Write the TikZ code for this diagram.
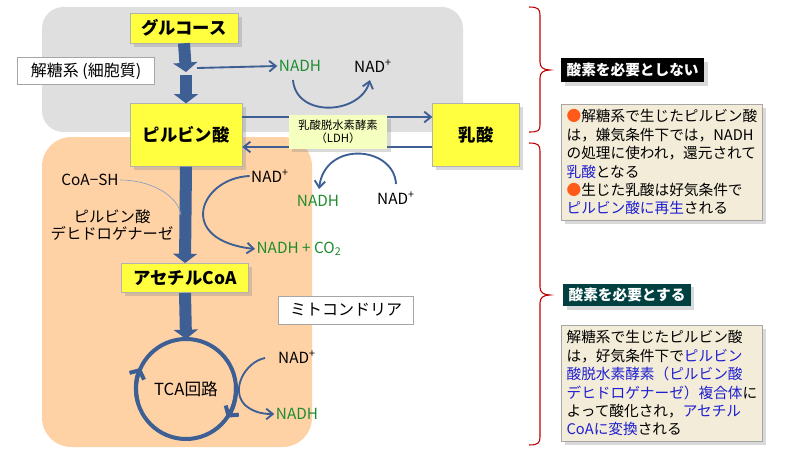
\documentclass[tikz,border=0pt]{standalone}
\usepackage{fontspec}
\setmainfont{Noto Sans CJK JP}
\usetikzlibrary{arrows.meta,shadows}
\definecolor{ar}{HTML}{3D5F94}
\definecolor{gr}{HTML}{1E8C2E}
\definecolor{bl}{HTML}{1F1FD0}
\definecolor{yel}{HTML}{FFFF40}
\definecolor{beige}{HTML}{F3ECD8}
\definecolor{orng}{HTML}{FF5A1A}
\begin{document}
\begin{tikzpicture}[x=0.75pt,y=-0.75pt,
 yb/.style={draw=gray!60,fill=yel,drop shadow={opacity=0.3},font=\bfseries\fontsize{13}{14}\selectfont,inner sep=0},
 lb/.style={draw=gray!70,fill=white,font=\fontsize{12}{14}\selectfont,inner sep=0},
 big/.style={ar,line width=9pt,-{Triangle[length=7pt,width=18pt]}},
 thin/.style={ar,line width=1.4pt,-{Straight Barb[length=5pt,width=8pt]}},
 tx/.style={font=\fontsize{11.5}{13}\selectfont,inner sep=1pt},
 note/.style={draw=gray!70,fill=beige,drop shadow={opacity=0.3},font=\fontsize{11}{13.8}\selectfont,align=left,inner sep=4pt,anchor=north west}]
\useasboundingbox (0,0) rectangle (800,460);
\fill[gray!25, rounded corners=16pt] (42,7) rectangle (463,132);
\fill[orange!35, rounded corners=22pt] (42,137) rectangle (312,447);
\node[yb,minimum width=81pt,minimum height=22.5pt] (glu) at (184,28) {グルコース};
\node[lb,minimum width=103pt,minimum height=20pt] (cyto) at (86,71) {解糖系 (細胞質)};
\node[yb,minimum width=84pt,minimum height=47pt] (pyr) at (186,135) {ピルビン酸};
\node[yb,minimum width=65pt,minimum height=47pt] (lac) at (476,135) {乳酸};
\node[yb,minimum width=95pt,minimum height=22pt] (acoa) at (185,278) {アセチルCoA};
\node[lb,minimum width=101pt,minimum height=21pt] (mito) at (346,310) {ミトコンドリア};
\coordinate (g1) at (186,72);
\draw[big] (glu.south) -- (g1);
\draw[big] (186,75) -- (pyr.north);
\node[tx,text=gr] (nadh1) at (300,66) {NADH};
\node[tx] (nad1) at (373,66) {NAD\textsuperscript{+}};
\draw[thin] (197,68) -- (nadh1.west);
\draw[thin] (293,80) .. controls (296,118) and (360,115) .. (370,80);
\draw[thin] (pyr.east|-0,117) -- (lac.west|-0,117);
\draw[thin] (lac.west|-0,147) -- (pyr.east|-0,147);
\node[tx,text=gr] (nadh2) at (318,201) {NADH};
\node[tx] (nad2) at (396,198) {NAD\textsuperscript{+}};
\draw[thin] (396,184) .. controls (394,146) and (325,140) .. (319,189);
\node[fill=green!15!yellow!25,drop shadow={opacity=0.3},minimum width=74pt,minimum height=25pt,align=center,font=\fontsize{8.5}{10}\selectfont,inner sep=0] (ldh) at (338,132) {乳酸脱水素酵素\\（LDH）};
\draw[big] (pyr.south) -- (acoa.north);
\node[tx] (nad3) at (270,176) {NAD\textsuperscript{+}};
\node[tx,text=gr,anchor=west] (nadh3) at (255,249) {NADH + CO\textsubscript{2}};
\draw[thin] (nad3.west) .. controls (200,178) and (175,240) .. (nadh3.west);
\node[tx] (coa) at (90,180) {CoA−SH};
\draw[ar!60,line width=0.5pt] (coa.east) .. controls (150,180) and (178,195) .. (181,215);
\node[tx,align=center] (pdh) at (112,225) {ピルビン酸\\デヒドロゲナーゼ};
\coordinate (tcatop) at (186,339);
\draw[big] (acoa.south) -- (tcatop);
\node[circle,draw=ar,line width=3pt,minimum size=75pt,font=\fontsize{12.5}{14}\selectfont] (tca) at (186,389) {TCA回路};
\draw[ar,line width=3pt,-{Straight Barb[length=5pt,width=12pt]}] ([shift={(195:37.5pt)}]tca.center) arc[start angle=195,end angle=155,radius=37.5pt];
\draw[ar,line width=3pt,-{Straight Barb[length=5pt,width=12pt]}] ([shift={(5:37.5pt)}]tca.center) arc[start angle=5,end angle=-35,radius=37.5pt];
\node[tx] (nad4) at (297,357) {NAD\textsuperscript{+}};
\node[tx,text=gr] (nadh4) at (297,414) {NADH};
\draw[thin] (265,358) .. controls (245,362) and (230,390) .. (245,405) .. controls (252,411) and (260,414) .. (nadh4.west);
\draw[red!75!black,line width=0.8pt] (529,7) .. controls (538,7) and (540,9) .. (540,15) -- (540,62) .. controls (540,67) and (543,70) .. (550,70) .. controls (543,70) and (540,73) .. (540,78) -- (540,125) .. controls (540,131) and (538,132) .. (529,132);
\draw[red!75!black,line width=0.8pt] (529,143) .. controls (538,143) and (540,145) .. (540,151) -- (540,287) .. controls (540,292) and (543,295) .. (550,295) .. controls (543,295) and (540,298) .. (540,303) -- (540,437) .. controls (540,443) and (538,445) .. (529,445);
\node[fill=black,text=white,anchor=west,minimum height=18pt,inner xsep=4pt,font=\bfseries\fontsize{11}{12}\selectfont,drop shadow={opacity=0.3}] (l1) at (561,70) {酸素を必要としない};
\node[fill=teal!50!black,text=white,anchor=west,minimum height=17pt,inner xsep=4pt,font=\bfseries\fontsize{11}{12}\selectfont,drop shadow={opacity=0.3}] (l2) at (563,295) {酸素を必要とする};
\node[note] (n1) at (561,104) {{\color{orng}●}解糖系で生じたピルビン酸\\は，嫌気条件下では，NADH\\の処理に使われ，還元されて\\{\color{bl}乳酸}となる\\{\color{orng}●}生じた乳酸は好気条件で\\{\color{bl}ピルビン酸に再生}される};
\node[note] (n2) at (561,325) {解糖系で生じたピルビン酸\\は，好気条件下で{\color{bl}ピルビン}\\{\color{bl}酸脱水素酵素（ピルビン酸}\\{\color{bl}デヒドロゲナーゼ）複合体}に\\よって酸化され，{\color{bl}アセチル}\\{\color{bl}CoAに変換}される};
\end{tikzpicture}
\end{document}
